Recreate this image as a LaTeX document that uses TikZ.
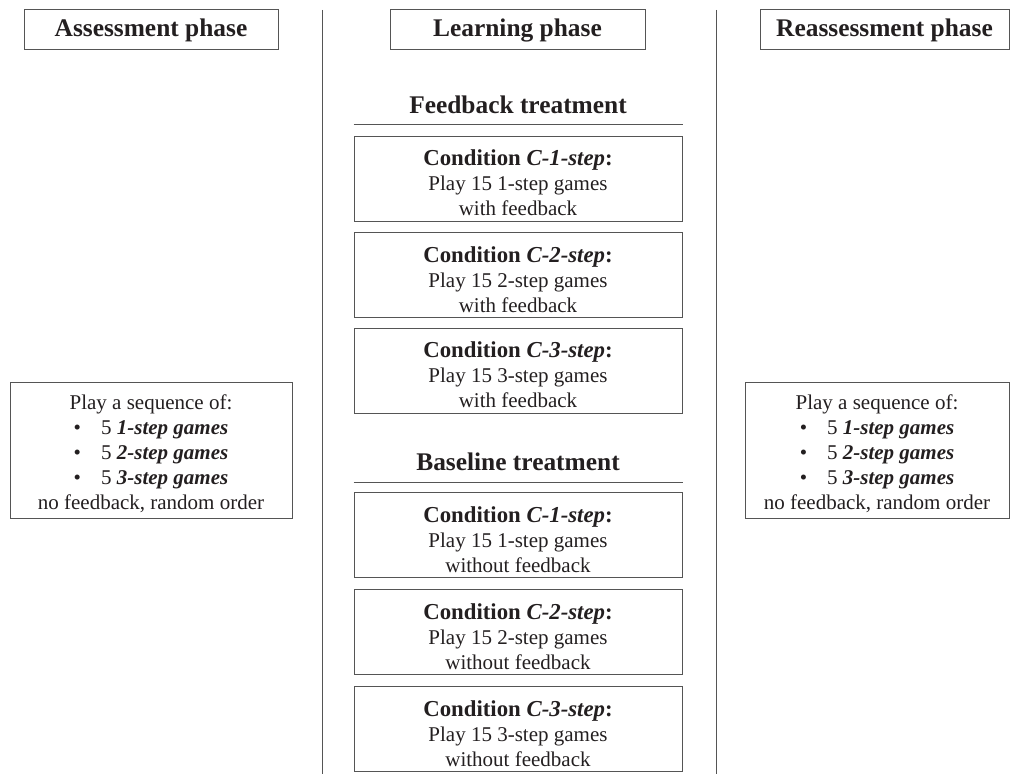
\documentclass[tikz,border=0pt]{standalone}
\usepackage{fontspec}
\setmainfont{Liberation Serif}
\definecolor{ink}{RGB}{35,31,32}
\definecolor{rule}{RGB}{85,85,85}
\newcommand{\condline}[1]{\rule{0pt}{12pt}{\fontsize{11.4}{12.5}\selectfont\bfseries Condition \textit{C-#1-step}:}}
\newcommand{\gameitem}[1]{\textbullet\hspace{10pt}5 \textbf{\textit{#1-step games}}}
\begin{document}
\begin{tikzpicture}[x=0.5pt,y=-0.5pt,text=ink,
  phasebox/.style={draw=rule, line width=0.5pt, minimum height=20pt, inner sep=0pt, font=\fontsize{12.7}{14}\selectfont\bfseries},
  treatlabel/.style={inner sep=0pt, font=\fontsize{12.7}{14}\selectfont\bfseries},
  condbox/.style={draw=rule, line width=0.5pt, minimum width=164pt, minimum height=42.5pt, inner sep=0pt, align=center, font=\fontsize{10.5}{12.5}\selectfont},
  seqbox/.style={draw=rule, line width=0.5pt, minimum height=68pt, inner sep=0pt, align=center, font=\fontsize{10.5}{12.5}\selectfont}]
\useasboundingbox (0,0) rectangle (1014,774);

% phases
\node[phasebox, minimum width=127pt] (assess) at (151,30) {Assessment phase};
\node[phasebox, minimum width=127.5pt] (learn) at (517.5,30) {Learning phase};
\node[phasebox, minimum width=124.5pt] (reassess) at (884.5,30) {Reassessment phase};
\draw[rule, line width=0.5pt] (322,10) -- (322,774);
\draw[rule, line width=0.5pt] (716,10) -- (716,774);

% assessment / reassessment
\node[seqbox, minimum width=141pt] (seqA) at (151,451) {\rule{0pt}{10.5pt}Play a sequence of:\\\gameitem{1}\\\gameitem{2}\\\gameitem{3}\\no feedback, random order};
\node[seqbox, minimum width=132pt] (seqR) at (877,451) {\rule{0pt}{10.5pt}Play a sequence of:\\\gameitem{1}\\\gameitem{2}\\\gameitem{3}\\no feedback, random order};

% feedback treatment
\node[treatlabel] (fbt) at (518,105) {Feedback treatment};
\node[condbox] (fb1) at (518,179) {\condline{1}\\Play 15 1-step games\\with feedback};
\node[condbox] (fb2) at (518,275.5) {\condline{2}\\Play 15 2-step games\\with feedback};
\node[condbox] (fb3) at (518,371) {\condline{3}\\Play 15 3-step games\\with feedback};
\draw[rule, line width=0.5pt] ([yshift=5.5pt]fb1.north west) -- ([yshift=5.5pt]fb1.north east);

% baseline treatment
\node[treatlabel] (bst) at (518,462) {Baseline treatment};
\node[condbox] (bs1) at (518,535.5) {\condline{1}\\Play 15 1-step games\\without feedback};
\node[condbox] (bs2) at (518,632.5) {\condline{2}\\Play 15 2-step games\\without feedback};
\node[condbox] (bs3) at (518,729.5) {\condline{3}\\Play 15 3-step games\\without feedback};
\draw[rule, line width=0.5pt] ([yshift=5pt]bs1.north west) -- ([yshift=5pt]bs1.north east);

\end{tikzpicture}
\end{document}
